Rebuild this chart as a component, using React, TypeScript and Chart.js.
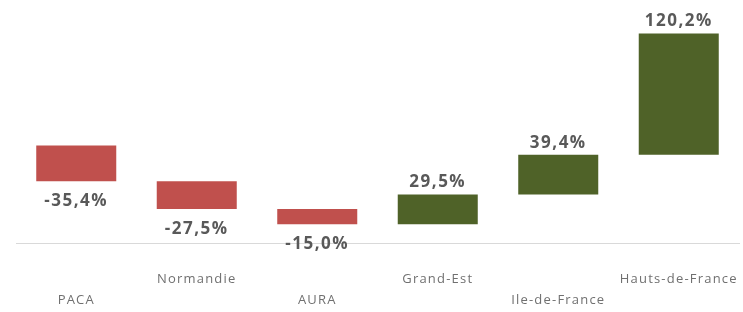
import React, { useEffect, useRef } from "react";
import { Chart, registerables } from "chart.js";

Chart.register(...registerables);

const categories = ["PACA", "Normandie", "AURA", "Grand-Est", "Ile-de-France", "Hauts-de-France"];
const changes = [-35.4, -27.5, -15.0, 29.5, 39.4, 120.2];
const startValue = 100;
const negativeColor = "#c0504d";
const positiveColor = "#4f6228";

function buildRanges(): [number, number][] {
  const out: [number, number][] = [];
  let level = startValue;
  for (const c of changes) {
    out.push([level, level + c]);
    level += c;
  }
  return out;
}

function fmt(v: number): string {
  return v.toFixed(1).replace(".", ",") + "%";
}

const spacingPlugin = {
  id: "spacing",
  beforeDraw(chart: any) {
    chart.ctx.letterSpacing = "1.2px";
  },
};

const labelPlugin = {
  id: "barLabels",
  afterDatasetsDraw(chart: any) {
    const ctx = chart.ctx;
    const meta = chart.getDatasetMeta(0);
    ctx.save();
    ctx.letterSpacing = "1.5px";
    ctx.font = "bold 17px 'Open Sans'";
    ctx.fillStyle = "#595959";
    ctx.textAlign = "center";
    ctx.textBaseline = "middle";
    meta.data.forEach((bar: any, i: number) => {
      const v = changes[i];
      const top = Math.min(bar.y, bar.base);
      const bottom = Math.max(bar.y, bar.base);
      const y = v < 0 ? bottom + 20 : top - 12;
      ctx.fillText(fmt(v), bar.x, y);
    });
    ctx.restore();
  },
};

export default function App() {
  const ref = useRef<HTMLCanvasElement | null>(null);
  useEffect(() => {
    if (!ref.current) return;
    const ranges = buildRanges();
    const chart = new Chart(ref.current, {
      type: "bar",
      data: {
        labels: categories,
        datasets: [
          {
            data: ranges as any,
            backgroundColor: changes.map((c) => (c < 0 ? negativeColor : positiveColor)),
            borderWidth: 0,
            categoryPercentage: 1,
            barPercentage: 0.664,
          },
        ],
      },
      options: {
        animation: false,
        responsive: false,
        devicePixelRatio: 1,
        layout: { padding: { left: 16, right: 4, top: 24.5, bottom: 0 } },
        plugins: { legend: { display: false }, tooltip: { enabled: false } },
        scales: {
          x: {
            grid: { display: false, drawTicks: false },
            border: { display: true, color: "#d9d9d9", width: 1 },
            ticks: {
              autoSkip: false,
              maxRotation: 0,
              minRotation: 0,
              padding: 25,
              color: "#707070",
              font: { family: "'Open Sans'", size: 13, lineHeight: "21px" as any },
              callback: (_v: any, i: number) => (i % 2 === 0 ? ["", categories[i]] : categories[i]),
            },
            afterFit: (s: any) => {
              s.height = 68.5;
              s.paddingLeft = 0;
              s.paddingRight = 0;
            },
          },
          y: { display: false, min: 3, max: 220 },
        },
      },
      plugins: [spacingPlugin, labelPlugin],
    });
    return () => chart.destroy();
  }, []);
  return (
    <div style={{ position: "absolute", left: 0, top: 0, width: 743, height: 312 }}>
      <canvas ref={ref} width={743} height={312} style={{ display: "block", width: 743, height: 312 }} />
    </div>
  );
}
